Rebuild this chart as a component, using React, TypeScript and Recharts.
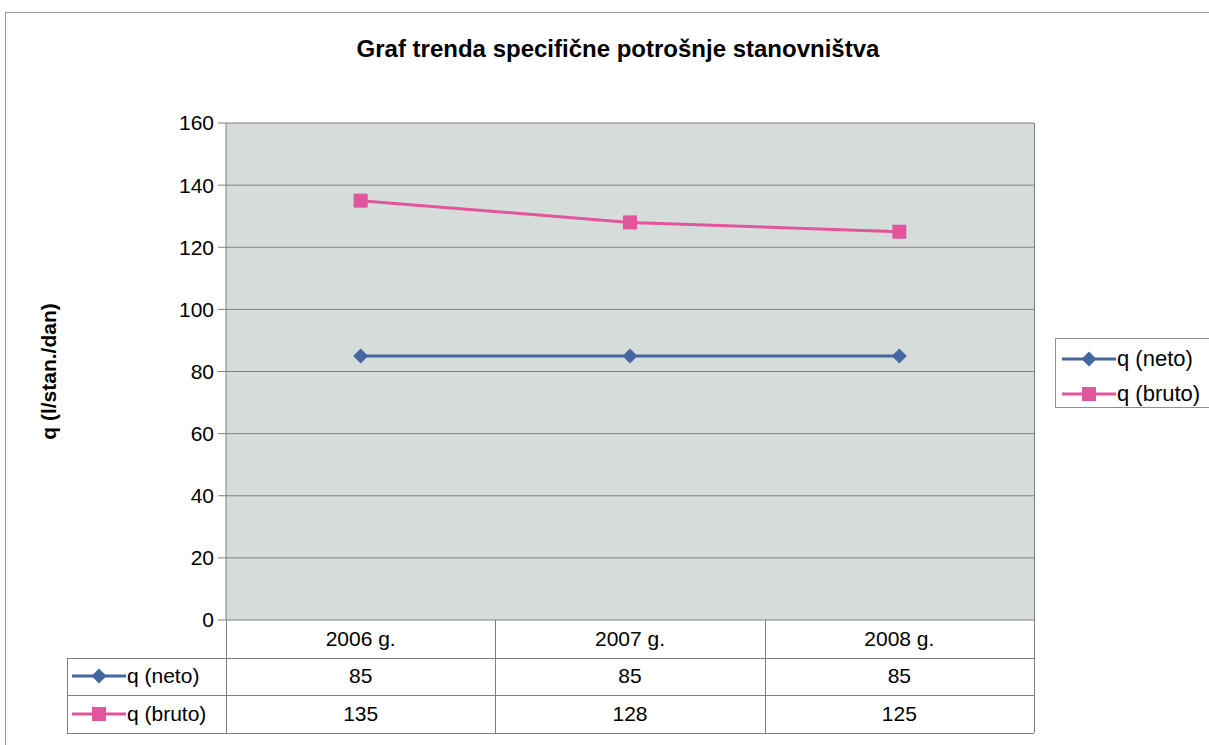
import React from "react"
import { LineChart, Line, XAxis, YAxis, CartesianGrid, Legend } from "recharts"

const categories = ["2006 g.", "2007 g.", "2008 g."]
const netoValues = [85, 85, 85]
const brutoValues = [135, 128, 125]
const yTicks = [0, 20, 40, 60, 80, 100, 120, 140, 160]

const series = [
    { key: "neto", name: "q (neto)", color: "#4467a0", shape: "diamond", values: netoValues },
    { key: "bruto", name: "q (bruto)", color: "#e0559b", shape: "square", values: brutoValues },
]

const data = categories.map((year, i) => {
    const row: Record<string, string | number> = { year }
    series.forEach((s) => (row[s.key] = s.values[i]))
    return row
})

const W = 1209
const H = 745
const PLOT_L = 226
const PLOT_R = 1034
const PLOT_T = 123
const PLOT_B = 620
const BAND = (PLOT_R - PLOT_L) / categories.length
const ROW_H = 37.5
const KEY_L = 67
const FONT = "'Liberation Sans', Arial, sans-serif"
const GRID = "#808080"

function Marker({ shape, color, cx, cy }: { shape: string; color: string; cx: number; cy: number }) {
    if (shape === "diamond") {
        const r = 7.5
        return <polygon points={`${cx},${cy - r} ${cx + r},${cy} ${cx},${cy + r} ${cx - r},${cy}`} fill={color} />
    }
    const s = 7
    return <rect x={cx - s} y={cy - s} width={s * 2} height={s * 2} fill={color} />
}

function LegendKey({ shape, color }: { shape: string; color: string }) {
    return (
        <svg width={54} height={16} style={{ display: "block" }}>
            <line x1={0} y1={8} x2={54} y2={8} stroke={color} strokeWidth={3} />
            <Marker shape={shape} color={color} cx={27} cy={8} />
        </svg>
    )
}

function LegendBox() {
    return (
        <div
            style={{
                position: "absolute",
                left: 1055,
                top: 338,
                width: 170,
                height: 70,
                border: "1px solid #909090",
                boxSizing: "border-box",
                background: "#fff",
            }}
        >
            {series.map((s, i) => (
                <div key={s.key} style={{ position: "absolute", left: 6, top: 8 + i * 35, display: "flex", alignItems: "center", height: 24 }}>
                    <LegendKey shape={s.shape} color={s.color} />
                    <span style={{ fontSize: 22, marginLeft: 1 }}>{s.name}</span>
                </div>
            ))}
        </div>
    )
}

export default function App() {
    const line = (x: number, y: number, w: number, h: number, k: string) => (
        <div key={k} style={{ position: "absolute", left: x, top: y, width: w, height: h, background: GRID }} />
    )
    const tableLines: React.ReactNode[] = []
    const tableBottom = PLOT_B + ROW_H * 3
    for (let i = 0; i <= categories.length; i++) {
        tableLines.push(line(PLOT_L + i * BAND, PLOT_B, 1, tableBottom - PLOT_B, "v" + i))
    }
    tableLines.push(line(KEY_L, PLOT_B + ROW_H, 1, ROW_H * 2, "vk"))
    for (let r = 1; r <= 3; r++) {
        tableLines.push(line(KEY_L, PLOT_B + r * ROW_H, PLOT_R - KEY_L, 1, "h" + r))
    }

    return (
        <div style={{ position: "absolute", left: 0, top: 0, width: W, height: H, background: "#fff", fontFamily: FONT, color: "#000", overflow: "hidden" }}>
            <div style={{ position: "absolute", left: 5, top: 12, right: 0, bottom: 0, borderTop: "1px solid #999", borderLeft: "1px solid #999" }} />
            <div style={{ position: "absolute", left: 618, top: 35, transform: "translateX(-50%)", fontSize: 24, fontWeight: "bold", whiteSpace: "nowrap" }}>
                Graf trenda specifične potrošnje stanovništva
            </div>
            <div style={{ position: "absolute", left: 0, top: 0 }}>
                <LineChart width={W} height={H} data={data} margin={{ top: PLOT_T, right: W - PLOT_R, bottom: H - PLOT_B, left: 0 }}>
                    <CartesianGrid vertical={false} stroke={GRID} fill="#d6dcd9" fillOpacity={1} />
                    <XAxis dataKey="year" hide padding={{ left: BAND / 2, right: BAND / 2 }} />
                    <YAxis
                        width={PLOT_L}
                        domain={[0, 160]}
                        ticks={yTicks}
                        interval={0}
                        tick={{ fill: "#000", fontSize: 21, fontFamily: FONT }}
                        tickLine={{ stroke: GRID }}
                        tickSize={8}
                        tickMargin={4}
                        axisLine={{ stroke: GRID }}
                        label={{
                            content: () => (
                                <text
                                    x={48}
                                    y={(PLOT_T + PLOT_B) / 2}
                                    transform={`rotate(-90, 48, ${(PLOT_T + PLOT_B) / 2})`}
                                    textAnchor="middle"
                                    dominantBaseline="central"
                                    fontSize={21}
                                    fontWeight="bold"
                                    fontFamily={FONT}
                                    fill="#000"
                                >
                                    q (l/stan./dan)
                                </text>
                            ),
                        }}
                    />
                    <Legend content={() => null} />
                    {series.map((s) => (
                        <Line
                            key={s.key}
                            dataKey={s.key}
                            name={s.name}
                            stroke={s.color}
                            strokeWidth={3}
                            isAnimationActive={false}
                            dot={(p: any) => <Marker key={p.index} shape={s.shape} color={s.color} cx={p.cx} cy={p.cy} />}
                        />
                    ))}
                </LineChart>
            </div>
            <div style={{ position: "absolute", left: PLOT_R, top: PLOT_T, width: 1, height: PLOT_B - PLOT_T, background: GRID }} />
            {tableLines}
            {categories.map((c, i) => (
                <div key={c} style={{ position: "absolute", left: PLOT_L + i * BAND, top: PLOT_B, width: BAND, height: ROW_H, display: "flex", alignItems: "center", justifyContent: "center", fontSize: 21 }}>
                    {c}
                </div>
            ))}
            {series.map((s, r) => (
                <React.Fragment key={s.key}>
                    <div style={{ position: "absolute", left: KEY_L + 5, top: PLOT_B + (r + 1) * ROW_H, height: ROW_H, display: "flex", alignItems: "center" }}>
                        <LegendKey shape={s.shape} color={s.color} />
                        <span style={{ fontSize: 21, marginLeft: 1 }}>{s.name}</span>
                    </div>
                    {s.values.map((v, i) => (
                        <div key={i} style={{ position: "absolute", left: PLOT_L + i * BAND, top: PLOT_B + (r + 1) * ROW_H, width: BAND, height: ROW_H, display: "flex", alignItems: "center", justifyContent: "center", fontSize: 21 }}>
                            {v}
                        </div>
                    ))}
                </React.Fragment>
            ))}
            <LegendBox />
        </div>
    )
}
